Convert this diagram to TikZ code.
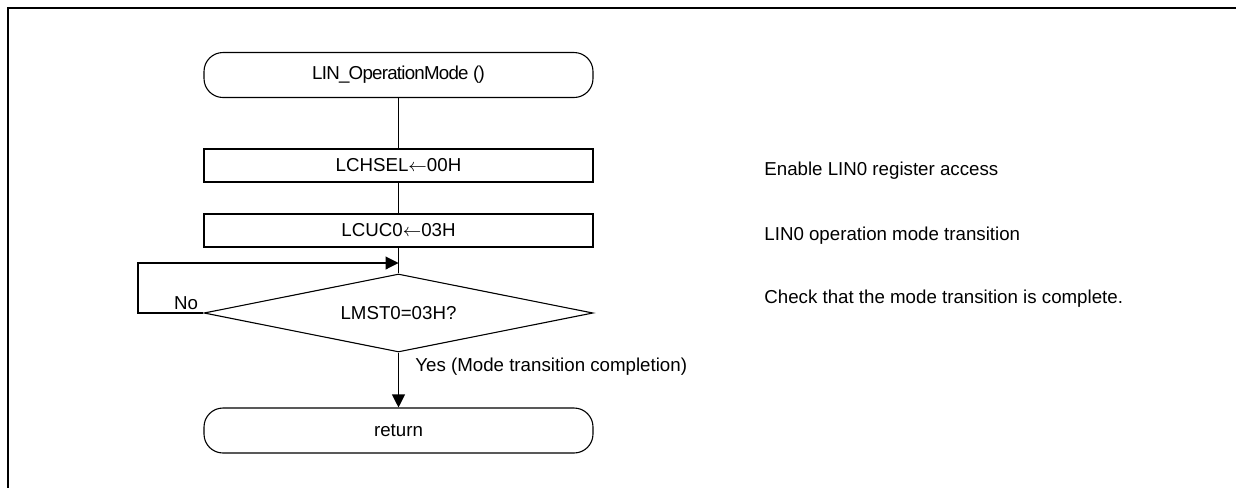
\documentclass[tikz,border=0pt]{standalone}
\usepackage{fontspec}
\setmainfont{Liberation Sans}
\usetikzlibrary{shapes.geometric,arrows.meta}
\newcommand{\myarr}{\ensuremath{\leftarrow}}
\begin{document}
\begin{tikzpicture}[x=0.5pt,y=-0.5pt,
  every node/.style={font=\fontsize{9.35pt}{11pt}\selectfont},
  thin line/.style={line width=0.55pt},
  term/.style={draw,thin line,rectangle,rounded corners=9.5pt,minimum width=194.5pt,minimum height=22.5pt,inner sep=0pt},
  proc/.style={draw,thin line,rectangle,minimum width=194.5pt,minimum height=16.5pt,inner sep=0pt},
  dec/.style={draw,thin line,diamond,aspect=4.99,minimum width=194.5pt,minimum height=39pt,inner sep=0pt},
  note/.style={inner sep=0pt,anchor=base west},
  lbl/.style={inner sep=0pt,anchor=base},
  conn/.style={thin line},
  arr/.style={thin line,-{Triangle[length=6.5pt,width=6.5pt]}},
  frame/.style={line width=1.35pt}]
\useasboundingbox (0,0) rectangle (1236,488);
\draw[frame] (7,8) -- (1236,8);
\draw[frame] (8,7) -- (8,488);

\node[term] (t) at (398.5,75) {\addfontfeature{LetterSpace=-4}LIN\_OperationMode ()};
\node[proc] (b1) at (398.5,165.5) {LCHSEL\myarr00H};
\node[proc] (b2) at (398.5,230.5) {LCUC0\myarr03H};
\node[dec] (d) at (398.5,313) {LMST0=03H?};
\node[term] (r) at (398.5,430.5) {return};
\coordinate (j) at (398.5,263);
\coordinate (lp) at (138,313);

\draw[conn] (t) -- (b1);
\draw[conn] (b1) -- (b2);
\draw[conn] (b2) -- (d);
\draw[arr] (d.west) -- (lp) |- (j);
\draw[arr] (d) -- (r);

\node[lbl] (no) at (186,309.7) {No};
\node[note] (yes) at (415,371.7) {Yes (Mode transition completion)};

\node[note] (c1) at (764,175.7) {Enable LIN0 register access};
\node[note] (c2) at (764,240.7) {LIN0 operation mode transition};
\node[note] (c3) at (764,303.7) {Check that the mode transition is complete.};
\end{tikzpicture}
\end{document}
